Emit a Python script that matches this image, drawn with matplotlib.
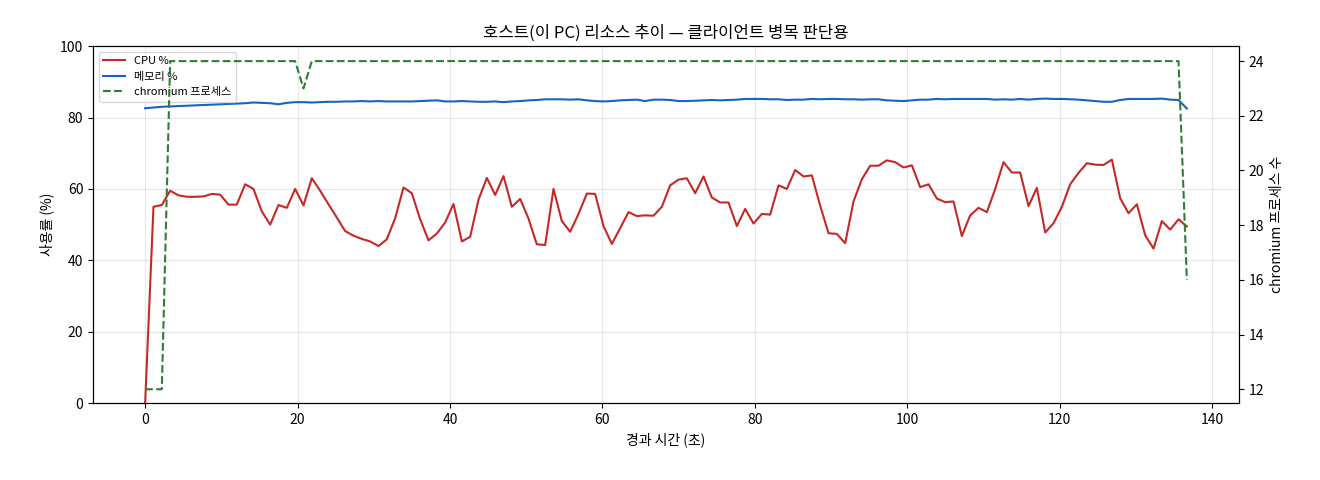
import numpy as np
import matplotlib.pyplot as plt

plt.rcParams['font.family'] = ['Noto Sans CJK KR', 'DejaVu Sans']

cpu = [0, 55, 55.5, 59.5, 58.2, 57.8, 57.8, 57.9, 58.6, 58.4, 55.6, 55.6, 61.3, 60, 53.7,
       50, 55.5, 54.7, 60, 55.4, 63, 59.5, 55.7, 52, 48.2, 46.9, 46, 45.3, 44, 45.9,
       51.8, 60.4, 58.8, 51.5, 45.6, 47.5, 50.6, 55.8, 45.3, 46.6, 57, 63.1, 58.3, 63.6, 55,
       57.2, 51.7, 44.5, 44.3, 60, 51, 48, 53, 58.7, 58.6, 49.6, 44.6, 49, 53.5, 52.4,
       52.6, 52.5, 55, 61, 62.6, 63, 58.8, 63.5, 57.6, 56.2, 56.2, 49.6, 54.4, 50.3, 53,
       52.8, 61, 60, 65.3, 63.5, 63.8, 55.3, 47.6, 47.4, 44.8, 56.5, 62.7, 66.5, 66.5, 68,
       67.5, 66, 66.6, 60.5, 61.3, 57.3, 56.3, 56.5, 46.8, 52.6, 54.7, 53.5, 60, 67.5, 64.6,
       64.6, 55.2, 60.3, 47.8, 50.4, 55, 61.3, 64.5, 67.2, 66.8, 66.7, 68.2, 57.4, 53.2, 55.7,
       47, 43.3, 51, 48.6, 51.5, 49.5]

mem = [82.6, 82.8, 83.0, 83.1, 83.2, 83.3, 83.4, 83.5, 83.6, 83.7, 83.8, 83.9, 84.0, 84.2, 84.1,
       84.0, 83.7, 84.1, 84.3, 84.3, 84.2, 84.3, 84.4, 84.4, 84.5, 84.5, 84.6, 84.5, 84.6, 84.5,
       84.5, 84.5, 84.5, 84.6, 84.7, 84.8, 84.5, 84.5, 84.6, 84.5, 84.4, 84.4, 84.5, 84.3, 84.5,
       84.6, 84.8, 84.9, 85.1, 85.1, 85.1, 85.0, 85.1, 84.8, 84.6, 84.5, 84.6, 84.8, 84.9, 85.0,
       84.6, 85.0, 85.0, 84.9, 84.6, 84.6, 84.7, 84.8, 84.9, 84.8, 84.9, 85.0, 85.2, 85.2, 85.2,
       85.1, 85.1, 84.9, 85.0, 85.0, 85.2, 85.1, 85.2, 85.2, 85.1, 85.1, 85.0, 85.1, 85.1, 84.8,
       84.7, 84.6, 84.8, 85.0, 85.0, 85.2, 85.1, 85.2, 85.2, 85.2, 85.2, 85.2, 85.0, 85.1, 85.0,
       85.2, 85.0, 85.2, 85.3, 85.2, 85.2, 85.1, 85.0, 84.8, 84.6, 84.4, 84.4, 84.9, 85.2, 85.2,
       85.2, 85.2, 85.3, 85.0, 84.9, 82.5]

chromium = [12, 12, 12] + [24] * 16 + [23] + [24] * 104 + [24, 16]

t = np.linspace(0, 136.7, len(cpu))

fig, ax = plt.subplots(figsize=(13.2, 4.8), dpi=100)
l1, = ax.plot(t, cpu, color="#c62828", lw=1.5, label="CPU %")
l2, = ax.plot(t, mem, color="#1565c0", lw=1.5, label="메모리 %")
ax.set_ylim(0, 100)
ax.set_xlabel("경과 시간 (초)")
ax.set_ylabel("사용률 (%)")
ax.grid(alpha=0.3)
axr = ax.twinx()
l3, = axr.plot(t, chromium, color="#2e7d32", lw=1.5, ls="--", label="chromium 프로세스")
axr.set_ylabel("chromium 프로세스 수")
axr.set_ylim(11.49, 24.55)
ax.legend(handles=[l1, l2, l3], loc="upper left", fontsize=8)
ax.set_title("호스트(이 PC) 리소스 추이 — 클라이언트 병목 판단용")
fig.subplots_adjust(left=0.0705, right=0.9386, top=0.904, bottom=0.16)
fig.savefig("out.png")
